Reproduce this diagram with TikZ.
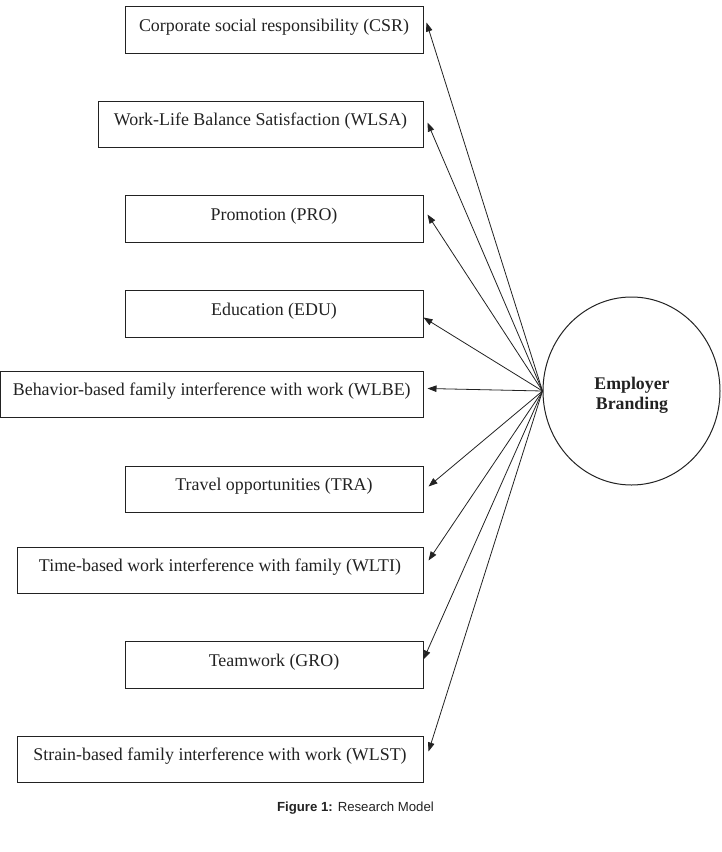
\documentclass[tikz,border=0pt]{standalone}
\usepackage{fontspec}
\setmainfont{Liberation Serif}
\setsansfont{Liberation Sans}
\usetikzlibrary{arrows.meta,calc,shapes.geometric}
\definecolor{ink}{HTML}{222222}
\begin{document}
\begin{tikzpicture}[x=1pt,y=-1pt,
  box/.style={draw=ink,line width=1pt,rectangle,inner sep=0pt},
  lbl/.style={inner sep=0pt,font=\fontsize{17.9}{21}\selectfont,text=ink},
  arr/.style={draw=ink,line width=0.8pt,-{Triangle[length=9pt,width=6.5pt]}}]
\useasboundingbox (0,0) rectangle (722,852);
% boxes: name, left, right, top, bottom, text
\newcommand\mybox[6]{%
  \node[box,minimum width=#3-#2,minimum height=#5-#4] (#1) at ({(#2+#3)/2},{(#4+#5)/2}) {};
  \node[lbl] (#1t) at ($(#1.center)+(0,-2.5)$) {#6};}
\mybox{csr}{125}{423}{6}{53}{Corporate social responsibility (CSR)}
\mybox{wlsa}{98}{423}{101}{147}{Work-Life Balance Satisfaction (WLSA)}
\mybox{pro}{125}{423}{195}{242}{Promotion (PRO)}
\mybox{edu}{125}{423}{290}{337}{Education (EDU)}
\mybox{wlbe}{0.5}{423}{371}{417}{Behavior-based family interference with work (WLBE)}
\mybox{tra}{125}{423}{466}{512}{Travel opportunities (TRA)}
\mybox{wlti}{17}{423}{547}{593}{Time-based work interference with family (WLTI)}
\mybox{gro}{125}{423}{641}{688}{Teamwork (GRO)}
\mybox{wlst}{17}{423}{736}{782}{Strain-based family interference with work (WLST)}
% ellipse
\node[draw=ink,line width=1pt,ellipse,minimum width=177,minimum height=188,inner sep=0pt] (eb) at (631.5,391) {};
\node[inner sep=0pt,align=center,font=\fontsize{17.8}{20}\selectfont\bfseries,text=ink] (ebt) at (632,395) {Employer\\Branding};
\coordinate (hub) at (eb.west);
% arrows
\draw[arr] (hub) -- ($(csr.north east)+(3,17)$);
\draw[arr] (hub) -- ($(wlsa.north east)+(4,22)$);
\draw[arr] (hub) -- ($(pro.north east)+(4,20)$);
\draw[arr] (hub) -- ($(edu.north east)+(0,28)$);
\draw[arr] (hub) -- ($(wlbe.north east)+(4,18)$);
\draw[arr] (hub) -- ($(tra.north east)+(5,21)$);
\draw[arr] (hub) -- ($(wlti.north east)+(5,14)$);
\draw[arr] (hub) -- ($(gro.north east)+(0,19)$);
\draw[arr] (hub) -- ($(wlst.north east)+(5,16)$);
% caption
\node[inner sep=0pt,font=\sffamily\fontsize{13.2}{15}\selectfont,text=ink] (cap) at (355.5,808) {\textbf{Figure 1:} Research Model};
\end{tikzpicture}
\end{document}
